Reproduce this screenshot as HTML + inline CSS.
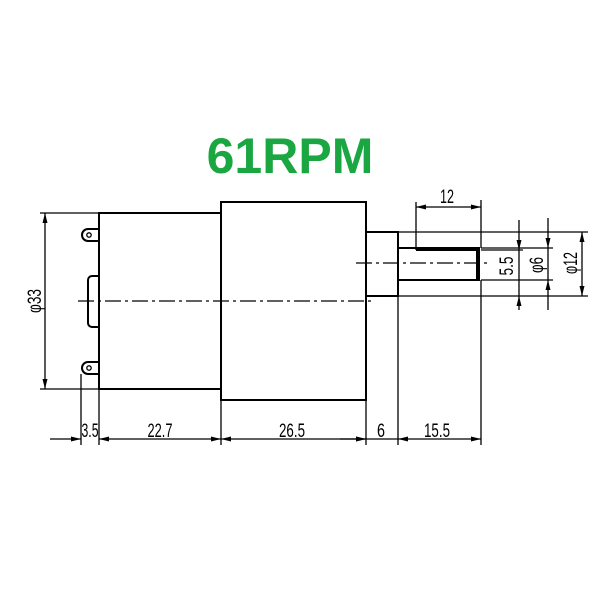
<!DOCTYPE html>
<html><head><meta charset="utf-8"><style>
html,body{margin:0;padding:0;background:#fff;width:600px;height:600px;overflow:hidden}
</style></head><body>
<svg width="600" height="600" xmlns="http://www.w3.org/2000/svg" style="position:absolute;left:0;top:0">
<defs>
<marker id="a" viewBox="0 0 10 6" refX="10" refY="3" markerWidth="10" markerHeight="6" orient="auto-start-reverse" markerUnits="userSpaceOnUse"><path d="M0,0.5 L10,3 L0,5.5 Z" fill="#000"/></marker>
</defs>
<text x="290" y="173" text-anchor="middle" font-family="Liberation Sans, sans-serif" font-weight="bold" font-size="50" fill="#1aa641">61RPM</text>
<g stroke="#000" stroke-width="2" fill="none">
<rect x="99" y="213" width="122" height="176"/>
<rect x="221" y="202" width="145" height="198"/>
<rect x="366" y="232" width="32" height="64"/>
<rect x="398" y="248" width="81" height="32"/>
<path d="M99,229 H88 a5,5 0 0 0 0,12 H99"/>
<path d="M99,362 H88 a5,5 0 0 0 0,12 H99"/>
<path d="M99,276 H92 a4,4 0 0 0 -4,4 V323 a4,4 0 0 0 4,4 H99"/>
<line x1="416" y1="250" x2="480" y2="250"/>
<line x1="477" y1="250" x2="477" y2="280"/>
</g>
<g fill="none" stroke="#000" stroke-width="1.3">
<circle cx="89" cy="235" r="2.2"/><circle cx="89" cy="368" r="2.2"/>
</g>
<g stroke="#000" stroke-width="1.3" fill="none">
<line x1="78" y1="301" x2="372" y2="301" stroke-dasharray="16,4,3,4"/>
<line x1="356" y1="263" x2="490" y2="263" stroke-dasharray="16,4,3,4"/>
<line x1="40" y1="213" x2="99" y2="213"/><line x1="40" y1="389" x2="99" y2="389"/>
<line x1="45" y1="213" x2="45" y2="389" marker-start="url(#a)" marker-end="url(#a)"/>
<line x1="81" y1="374" x2="81" y2="445"/>
<line x1="99" y1="389" x2="99" y2="445"/>
<line x1="221" y1="400" x2="221" y2="445"/>
<line x1="366" y1="400" x2="366" y2="445"/>
<line x1="398" y1="296" x2="398" y2="445"/>
<line x1="481" y1="280" x2="481" y2="445"/>
<line x1="481" y1="200" x2="481" y2="248"/>
<line x1="416" y1="202" x2="416" y2="250"/>
<line x1="50" y1="439" x2="81" y2="439" marker-end="url(#a)"/>
<line x1="99" y1="439" x2="221" y2="439" marker-start="url(#a)" marker-end="url(#a)"/>
<line x1="221" y1="439" x2="366" y2="439" marker-start="url(#a)" marker-end="url(#a)"/>
<line x1="366" y1="439" x2="398" y2="439"/>
<line x1="398" y1="439" x2="481" y2="439" marker-start="url(#a)" marker-end="url(#a)"/>
<line x1="340" y1="439" x2="366" y2="439" marker-end="url(#a)"/>
<line x1="416" y1="207" x2="481" y2="207" marker-start="url(#a)" marker-end="url(#a)"/>
<line x1="398" y1="232" x2="588" y2="232"/>
<line x1="481" y1="248" x2="553" y2="248"/>
<line x1="481" y1="250" x2="523" y2="250"/>
<line x1="481" y1="280" x2="553" y2="280"/>
<line x1="398" y1="296" x2="588" y2="296"/>
<line x1="519" y1="220" x2="519" y2="250" marker-end="url(#a)"/>
<line x1="519" y1="250" x2="519" y2="296"/>
<line x1="519" y1="310" x2="519" y2="296" marker-end="url(#a)"/>
<line x1="548" y1="218" x2="548" y2="248" marker-end="url(#a)"/>
<line x1="548" y1="248" x2="548" y2="280"/>
<line x1="548" y1="310" x2="548" y2="280" marker-end="url(#a)"/>
<line x1="582" y1="232" x2="582" y2="296" marker-start="url(#a)" marker-end="url(#a)"/>
</g>
<g font-family="Liberation Sans Narrow, Liberation Sans, sans-serif" font-size="19" fill="#000" text-anchor="middle">
<text x="90" y="437" textLength="17" lengthAdjust="spacingAndGlyphs">3.5</text>
<text x="160" y="437" textLength="25" lengthAdjust="spacingAndGlyphs">22.7</text>
<text x="292" y="437" textLength="26" lengthAdjust="spacingAndGlyphs">26.5</text>
<text x="381" y="437" textLength="8" lengthAdjust="spacingAndGlyphs">6</text>
<text x="437" y="437" textLength="26" lengthAdjust="spacingAndGlyphs">15.5</text>
<text x="447" y="203" textLength="14" lengthAdjust="spacingAndGlyphs">12</text>
<text transform="translate(41,301) rotate(-90)" textLength="24" lengthAdjust="spacingAndGlyphs">φ33</text>
<text transform="translate(513,266) rotate(-90)" textLength="19" lengthAdjust="spacingAndGlyphs">5.5</text>
<text transform="translate(543,265) rotate(-90)" textLength="16" lengthAdjust="spacingAndGlyphs">φ6</text>
<text transform="translate(577,263) rotate(-90)" textLength="22" lengthAdjust="spacingAndGlyphs">φ12</text>
</g>
</svg>
</body></html>
